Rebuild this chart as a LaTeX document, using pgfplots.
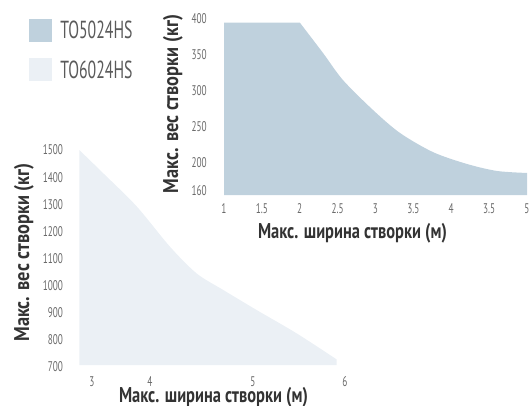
\documentclass[border=0pt]{standalone}
\usepackage{pgfplots}
\pgfplotsset{compat=1.18}
\usepackage{fontspec}
\setmainfont{PT Sans}
\newfontfamily\tickfont[FakeStretch=0.66]{PT Sans}
\newfontfamily\xlabfont[FakeStretch=0.77]{PT Sans}
\newfontfamily\ylabfont[FakeStretch=0.86]{PT Sans}
\newfontfamily\legfont[FakeStretch=0.64]{PT Sans}
\definecolor{topfill}{HTML}{BFD1DD}
\definecolor{botfill}{HTML}{EBF0F5}
\definecolor{tickgray}{HTML}{6A6A6A}
\definecolor{leggray}{HTML}{5A5A5A}
\definecolor{labdark}{HTML}{333333}
\begin{document}
\begin{tikzpicture}
\path[use as bounding box] (0,0) rectangle (397.5pt,303.75pt);
% top chart
\begin{axis}[
  at={(224*0.75pt,210*0.75pt)}, anchor=south west, scale only axis,
  width=227.25pt, height=132.6pt,
  xmin=1, xmax=5, ymin=154.4, ymax=400,
  axis line style={draw=none}, major tick length=0pt,
  xtick={1,1.5,2,2.5,3,3.5,4,4.5,5},
  xticklabels={1,1.5,2,2.5,3,3.5,4,3.5,5},
  ytick={160,200,250,300,350,400},
  yticklabels={160,200,250,300,350,400},
  tick label style={font=\tickfont\fontsize{10.5}{11}\selectfont, text=tickgray, inner sep=0pt},
  yticklabel style={anchor=east, xshift=-17*0.75pt},
  xticklabel style={anchor=north, yshift=-8*0.75pt},
  clip=false]
\addplot[fill=topfill, draw=none, smooth] coordinates {
 (2,394) (2.307,351.7) (2.571,314) (2.967,272.5) (3.323,240.6)
 (3.759,214) (4.208,197.5) (4.604,187.8) (5,185)}
 -- (axis cs:5,154.4) -- (axis cs:1,154.4) -- (axis cs:1,394) -- cycle;
\end{axis}
% bottom chart
\begin{axis}[
  at={(79.3*0.75pt,{(405-368.4)*0.75pt})}, anchor=south west, scale only axis,
  width=199.5pt, height=163.8pt,
  xmin=3, xmax=6.1, ymin=695, ymax=1500,
  axis line style={draw=none}, major tick length=0pt,
  xtick={3.148,3.824,5.024,6.096},
  xticklabels={3,4,5,6},
  ytick={700,800,900,1000,1100,1200,1300,1400,1500},
  yticklabels={700,800,900,1000,1100,1200,1300,1400,1500},
  tick label style={font=\tickfont\fontsize{10.5}{11}\selectfont, text=tickgray, inner sep=0pt},
  yticklabel style={anchor=east, xshift=-16*0.75pt},
  xticklabel style={anchor=north, yshift=-8*0.75pt},
  clip=false]
\addplot[fill=botfill, draw=none, smooth] coordinates {
 (3,1500) (3.28,1414) (3.669,1292) (4.057,1143.5) (4.368,1045) (4.678,984)
 (5.068,910) (5.534,824) (6,728)}
 -- (axis cs:6,707) -- (axis cs:3,707) -- cycle;
\end{axis}
% axis titles
\node[rotate=90, anchor=base, inner sep=0pt, font=\ylabfont\bfseries\fontsize{16}{18}\selectfont, text=labdark] at (178*0.75pt,{(405-104)*0.75pt}) {Макс. вес створки (кг)};
\node[anchor=base, inner sep=0pt, font=\xlabfont\bfseries\fontsize{16}{18}\selectfont, text=labdark] at (352.5*0.75pt,{(405-238)*0.75pt}) {Макс. ширина створки (м)};
\node[rotate=90, anchor=base, inner sep=0pt, font=\ylabfont\bfseries\fontsize{16}{18}\selectfont, text=labdark] at (29*0.75pt,{(405-252.5)*0.75pt}) {Макс. вес створки (кг)};
\node[anchor=base, inner sep=0pt, font=\xlabfont\bfseries\fontsize{16}{18}\selectfont, text=labdark] at (213.5*0.75pt,{(405-402)*0.75pt}) {Макс. ширина створки (м)};
% legend
\fill[topfill] (29*0.75pt,{(405-42)*0.75pt}) rectangle (52*0.75pt,{(405-19)*0.75pt});
\fill[botfill] (29*0.75pt,{(405-81)*0.75pt}) rectangle (52*0.75pt,{(405-58)*0.75pt});
\node[anchor=west, inner sep=0pt, font=\legfont\fontsize{18.5}{20}\selectfont, text=leggray] at (60*0.75pt,{(405-30)*0.75pt}) {TO5024HS};
\node[anchor=west, inner sep=0pt, font=\legfont\fontsize{18.5}{20}\selectfont, text=leggray] at (60*0.75pt,{(405-70)*0.75pt}) {TO6024HS};
\end{tikzpicture}
\end{document}
